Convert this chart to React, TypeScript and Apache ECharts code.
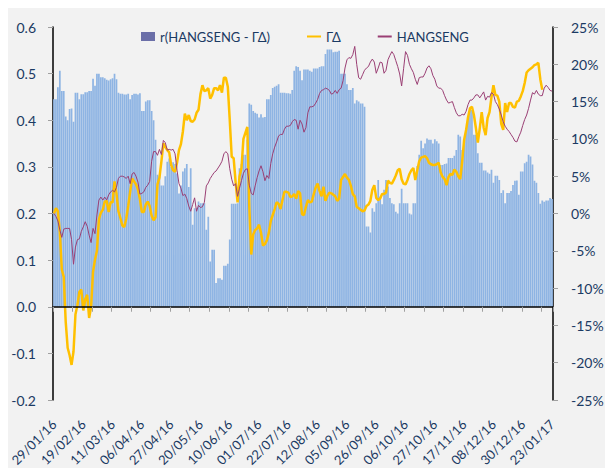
import React, { useEffect, useRef } from "react";
import * as echarts from "echarts";

const DATE_LABELS = [
  "29/01/16", "19/02/16", "11/03/16", "06/04/16", "27/04/16", "20/05/16",
  "10/06/16", "01/07/16", "22/07/16", "12/08/16", "05/09/16", "26/09/16",
  "06/10/16", "27/10/16", "17/11/16", "08/12/16", "30/12/16", "23/01/17",
];
const LABEL_STEP = 15;

const R_CORR = [
  0.445, 0.445, 0.471, 0.506, 0.463, 0.463, 0.408, 0.400, 0.424, 0.425,
  0.397, 0.459, 0.459, 0.445, 0.456, 0.456, 0.460, 0.460, 0.463, 0.463,
  0.489, 0.474, 0.500, 0.500, 0.492, 0.492, 0.490, 0.487, 0.485, 0.488,
  0.490, 0.500, 0.488, 0.459, 0.457, 0.457, 0.455, 0.455, 0.457, 0.445,
  0.454, 0.457, 0.457, 0.455, 0.458, 0.420, 0.420, 0.440, 0.443, 0.443,
  0.420, 0.400, 0.358, 0.283, 0.280, 0.260, 0.260, 0.280, 0.311, 0.318,
  0.300, 0.310, 0.306, 0.286, 0.243, 0.260, 0.290, 0.297, 0.306, 0.257,
  0.297, 0.176, 0.211, 0.211, 0.226, 0.222, 0.222, 0.222, 0.165, 0.193,
  0.097, 0.122, 0.122, 0.051, 0.061, 0.061, 0.058, 0.088, 0.088, 0.092,
  0.144, 0.221, 0.221, 0.221, 0.222, 0.297, 0.306, 0.326, 0.326, 0.358,
  0.436, 0.433, 0.420, 0.416, 0.414, 0.406, 0.413, 0.406, 0.407, 0.445,
  0.445, 0.454, 0.469, 0.472, 0.474, 0.477, 0.459, 0.459, 0.459, 0.458,
  0.458, 0.457, 0.465, 0.506, 0.516, 0.514, 0.506, 0.486, 0.509, 0.509,
  0.509, 0.506, 0.504, 0.511, 0.511, 0.511, 0.514, 0.516, 0.516, 0.542,
  0.552, 0.552, 0.552, 0.546, 0.547, 0.547, 0.549, 0.500, 0.500, 0.500,
  0.477, 0.465, 0.465, 0.469, 0.436, 0.443, 0.440, 0.436, 0.436, 0.429,
  0.172, 0.172, 0.159, 0.211, 0.204, 0.222, 0.272, 0.236, 0.220, 0.251,
  0.272, 0.258, 0.233, 0.222, 0.220, 0.204, 0.200, 0.222, 0.253, 0.222,
  0.222, 0.222, 0.200, 0.198, 0.222, 0.222, 0.302, 0.326, 0.356, 0.340,
  0.350, 0.361, 0.358, 0.358, 0.350, 0.359, 0.355, 0.350, 0.304, 0.304,
  0.306, 0.307, 0.319, 0.319, 0.319, 0.324, 0.336, 0.369, 0.365, 0.336,
  0.360, 0.383, 0.402, 0.422, 0.422, 0.369, 0.369, 0.329, 0.309, 0.309,
  0.292, 0.292, 0.288, 0.285, 0.294, 0.266, 0.281, 0.281, 0.272, 0.244,
  0.250, 0.222, 0.244, 0.244, 0.248, 0.261, 0.270, 0.271, 0.240, 0.290,
  0.290, 0.308, 0.311, 0.326, 0.322, 0.305, 0.270, 0.266, 0.244, 0.221,
  0.228, 0.225, 0.228, 0.228, 0.233, 0.231,
];

const GAMMA_DELTA = [
  0.0, 0.7, 0.3, -2.5, -7.5, -8.5, -14.5, -18.0, -19.0, -20.3,
  -18.5, -13.5, -12.3, -10.5, -10.2, -13.0, -11.5, -10.9, -14.0, -12.5,
  -7.8, -6.2, -5.0, -0.8, 0.1, 0.5, 1.6, 1.7, 0.2, 1.5,
  1.5, 4.3, 2.7, 0.3, -0.6, -1.6, -1.8, -0.7, 1.0, 2.9,
  4.7, 4.3, 3.9, 3.2, 1.9, 0.2, 0.2, 1.2, 1.6, 1.0,
  -0.3, -0.9, -0.5, 3.9, 4.8, 7.0, 9.4, 8.9, 8.5, 8.2,
  6.5, 5.8, 5.6, 6.8, 8.5, 9.3, 11.0, 13.4, 12.5, 13.2,
  12.4, 12.3, 12.6, 13.5, 13.9, 16.0, 17.2, 16.4, 16.5, 16.8,
  15.4, 15.9, 16.8, 16.8, 16.5, 17.2, 16.2, 18.2, 18.2, 17.0,
  12.5, 7.6, 7.4, 4.2, 1.5, 5.0, 6.1, 10.0, 10.8, 11.6,
  0.9, -5.5, -2.8, -2.2, -2.0, -1.5, -2.6, -4.3, -4.1, -3.6,
  -2.6, -1.0, -0.2, 0.6, 1.5, 1.3, 0.6, 1.8, 2.9, 2.9,
  2.8, 2.2, 2.3, 2.6, 2.0, 3.0, 2.7, -0.1, -0.2, 0.9,
  1.8, 1.5, 1.6, 2.6, 3.5, 4.0, 3.0, 2.3, 3.6, 1.7,
  2.4, 2.8, 2.7, 2.5, 2.3, 1.7, 2.0, 4.5, 4.9, 5.3,
  4.8, 4.5, 3.7, 2.6, 2.3, 0.9, 0.7, 0.5, 0.3, 0.4,
  1.0, 1.2, 1.7, 3.2, 3.8, 2.1, 1.8, 2.0, 2.6, 2.6,
  2.8, 4.4, 4.1, 4.0, 4.5, 5.1, 5.8, 6.0, 4.6, 4.0,
  3.9, 4.5, 5.3, 5.8, 6.1, 4.5, 5.8, 7.0, 7.5, 7.6,
  7.7, 7.4, 6.8, 6.6, 6.5, 6.5, 6.6, 6.8, 5.5, 4.9,
  4.6, 3.8, 4.9, 5.3, 5.2, 5.9, 5.6, 5.0, 4.6, 7.0,
  9.9, 11.2, 12.9, 14.1, 14.3, 13.2, 11.5, 9.5, 11.4, 13.6,
  11.5, 10.5, 12.8, 13.6, 15.6, 17.2, 15.9, 15.8, 15.0, 12.0,
  11.2, 14.8, 13.6, 14.8, 14.8, 14.3, 14.2, 15.0, 15.1, 15.7,
  16.4, 17.5, 18.9, 19.2, 19.4, 19.6, 19.9, 20.0, 20.2, 18.0,
  16.6, null, null, null, null, null,
];

const HANGSENG = [
  0.0, -0.4, -1.0, -2.2, -3.2, -2.1, -2.0, -2.0, -2.0, -3.5,
  -6.8, -4.5, -3.5, -3.4, -2.4, -1.8, -1.1, -1.7, -2.9, -3.9,
  -2.0, -2.7, -0.2, 1.8, 2.2, 1.8, 2.2, 1.8, 2.5, 2.9,
  3.1, 2.9, 3.5, 4.7, 5.0, 5.0, 4.9, 4.7, 5.0, 4.0,
  5.3, 5.5, 5.0, 4.2, 2.6, 2.7, 2.9, 3.5, 3.8, 4.3,
  7.0, 8.3, 8.3, 7.8, 8.6, 7.9, 9.8, 9.5, 8.5, 8.6,
  8.5, 8.6, 8.0, 5.8, 4.0, 3.4, 2.4, 2.6, 2.0, 1.0,
  0.3, 1.2, 2.1, 0.3, 1.1, 0.8, 0.9, 1.5, 3.7, 4.1,
  4.7, 5.1, 5.5, 5.7, 6.1, 6.5, 7.0, 8.0, 8.3, 8.0,
  6.0, 4.6, 3.7, 4.0, 2.3, 3.4, 4.4, 5.4, 5.9, 6.0,
  3.8, 2.7, 2.5, 3.7, 4.8, 5.7, 6.4, 5.6, 4.4, 5.1,
  4.7, 6.7, 8.0, 8.9, 9.6, 10.4, 10.6, 10.6, 11.3, 11.7,
  11.7, 11.8, 12.3, 12.6, 12.5, 11.3, 12.5, 12.0, 10.9, 11.5,
  13.5, 14.3, 14.3, 14.4, 14.8, 15.3, 16.1, 16.5, 16.6, 16.8,
  16.7, 16.5, 16.0, 16.1, 16.5, 16.1, 16.6, 16.8, 17.8, 19.5,
  20.6, 20.9, 20.8, 21.3, 22.4, 20.0, 18.2, 18.0, 18.6, 19.2,
  19.5, 19.7, 20.3, 20.7, 20.3, 18.8, 19.5, 20.3, 20.2, 18.8,
  19.2, 20.6, 21.2, 21.7, 21.3, 20.5, 19.7, 18.7, 17.1, 19.4,
  21.7, 21.2, 20.0, 19.4, 18.9, 18.0, 17.3, 18.2, 18.3, 18.3,
  18.8, 19.5, 19.8, 19.4, 18.5, 18.0, 17.1, 16.8, 16.8, 16.5,
  15.8, 15.2, 14.8, 14.9, 15.0, 14.2, 13.5, 13.1, 13.1, 13.3,
  13.2, 13.7, 14.6, 15.2, 15.2, 15.5, 15.9, 15.9, 15.5, 15.9,
  16.3, 15.2, 15.7, 15.6, 16.2, 16.0, 15.0, 14.6, 14.0, 13.2,
  12.3, 11.7, 11.3, 11.0, 10.6, 10.2, 9.7, 9.6, 10.3, 10.9,
  11.8, 12.6, 13.2, 14.1, 15.2, 16.2, 16.0, 16.5, 16.0, 15.8,
  15.8, 16.8, 17.2, 16.9, 16.5, 16.4,
];

const SERIES_NAMES = ["r(HANGSENG - ΓΔ)", "ΓΔ", "HANGSENG"];

const NAVY = "#1B3A63";
const FONT = "Lato";

const LEFT_MIN = -0.2;
const LEFT_MAX = 0.6;

const CATEGORIES = R_CORR.map((_, i) =>
  i % LABEL_STEP === 0 ? DATE_LABELS[i / LABEL_STEP] : `#${i}`
);

export default function App() {
  const ref = useRef<HTMLDivElement>(null);

  useEffect(() => {
    if (!ref.current) return;
    const chart = echarts.init(ref.current, undefined, { renderer: "svg" });
    const gridTop = 19;
    const gridBottom = 68;
    const plotH = 460 - gridTop - gridBottom;
    const zeroOffset = (plotH * (0 - LEFT_MIN)) / (LEFT_MAX - LEFT_MIN);
    const axisText = { color: NAVY, fontSize: 14, fontFamily: FONT };
    const hiddenSymbol = { color: "rgba(0,0,0,0)", borderWidth: 0, opacity: 0 };
    chart.setOption({
      animation: false,
      backgroundColor: "#F2F2F2",
      textStyle: { fontFamily: FONT },
      grid: {
        left: 45,
        right: 52,
        top: gridTop,
        bottom: gridBottom,
        containLabel: false,
        outerBoundsMode: "none",
      },
      legend: {
        top: 17,
        left: 128,
        itemWidth: 14,
        itemHeight: 9,
        itemGap: 36,
        textStyle: { color: NAVY, fontSize: 13, fontFamily: FONT },
        data: [
          { name: SERIES_NAMES[0], icon: "rect", itemStyle: { color: "#6B6FA8" } },
          { name: SERIES_NAMES[1], itemStyle: hiddenSymbol },
          { name: SERIES_NAMES[2], itemStyle: hiddenSymbol },
        ],
      },
      xAxis: [
        {
          type: "category",
          data: CATEGORIES,
          position: "bottom",
          offset: -zeroOffset,
          boundaryGap: true,
          axisLine: { show: true, onZero: false, lineStyle: { color: "#000", width: 1.5 } },
          axisTick: { show: true, interval: 9, length: 5, lineStyle: { color: "#A0A0A0" } },
          axisLabel: { show: false },
          splitLine: { show: false },
          z: 10,
        },
        {
          type: "category",
          data: CATEGORIES,
          position: "bottom",
          boundaryGap: true,
          axisLine: { show: false, onZero: false },
          axisTick: { show: false },
          axisLabel: {
            ...axisText,
            fontSize: 13,
            interval: LABEL_STEP - 1,
            rotate: 45,
            margin: 22,
          },
          splitLine: { show: false },
        },
      ],
      yAxis: [
        {
          type: "value",
          min: LEFT_MIN,
          max: LEFT_MAX,
          interval: 0.1,
          axisLine: { show: true, lineStyle: { color: "#000", width: 1.5 } },
          axisTick: { show: true, length: 5, lineStyle: { color: "#A0A0A0" } },
          splitLine: { show: false },
          axisLabel: { ...axisText, margin: 17, formatter: (v: number) => v.toFixed(1) },
        },
        {
          type: "value",
          position: "right",
          min: -25,
          max: 25,
          interval: 5,
          axisLine: { show: true, lineStyle: { color: "#000", width: 1.5 } },
          axisTick: { show: true, length: 5, lineStyle: { color: "#A0A0A0" } },
          splitLine: { show: false },
          axisLabel: { ...axisText, margin: 18, formatter: (v: number) => `${v}%` },
        },
      ],
      series: [
        {
          name: SERIES_NAMES[0],
          type: "bar",
          xAxisIndex: 0,
          yAxisIndex: 0,
          data: R_CORR,
          barCategoryGap: "12%",
          itemStyle: { color: "#8EB4E3" },
        },
        {
          name: SERIES_NAMES[1],
          type: "line",
          xAxisIndex: 0,
          yAxisIndex: 1,
          data: GAMMA_DELTA,
          symbol: "none",
          lineStyle: { color: "#FFC000", width: 2.5 },
          itemStyle: { color: "#FFC000" },
        },
        {
          name: SERIES_NAMES[2],
          type: "line",
          xAxisIndex: 0,
          yAxisIndex: 1,
          data: HANGSENG,
          symbol: "none",
          lineStyle: { color: "#9A3F74", width: 1 },
          itemStyle: { color: "#9A3F74" },
        },
      ],
    });
    return () => chart.dispose();
  }, []);

  return (
    <div
      ref={ref}
      style={{ position: "absolute", left: 8, top: 8, width: 597, height: 460 }}
    />
  );
}
